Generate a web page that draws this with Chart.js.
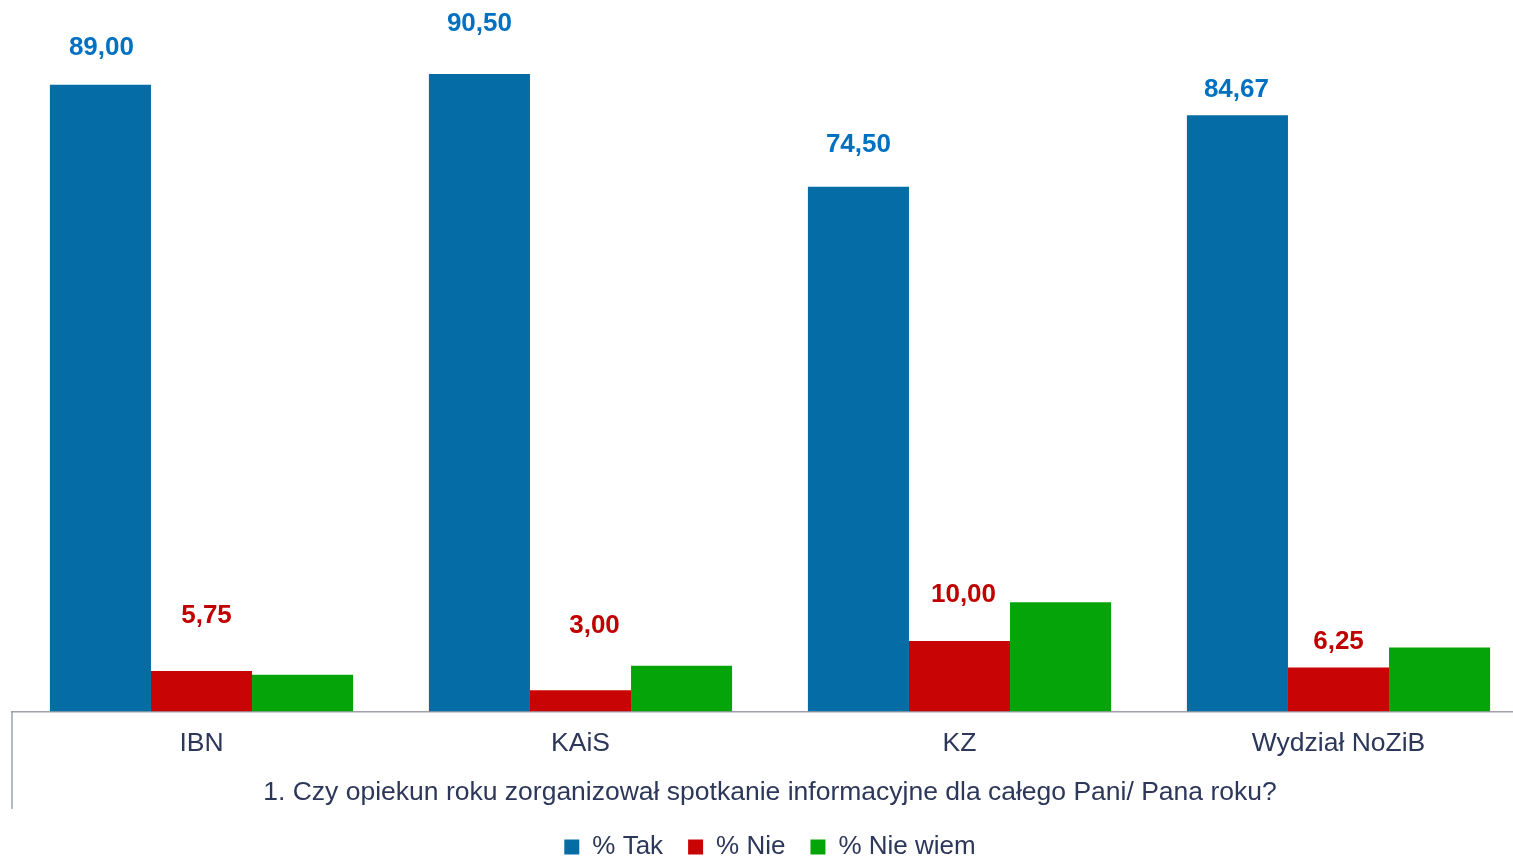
<!DOCTYPE html>
<html>
<head>
<meta charset="utf-8">
<script src="https://cdn.jsdelivr.net/npm/chart.js@4"></script>
<style>
  html, body { margin: 0; padding: 0; overflow: hidden; background: #fff; }
  #wrap { position: absolute; left: 0; top: 0; width: 1540px; height: 870px; }
</style>
</head>
<body>
<div id="wrap"><canvas id="c"></canvas></div>
<script>
const categories = ['IBN', 'KAiS', 'KZ', 'Wydział NoZiB'];
const seriesNames = ['% Tak', '% Nie', '% Nie wiem'];
const tak = [89.00, 90.50, 74.50, 84.67];
const nie = [5.75, 3.00, 10.00, 6.25];
const nieWiem = [5.2, 6.5, 15.5, 9.08];
const axisTitle = '1. Czy opiekun roku zorganizował spotkanie informacyjne dla całego Pani/ Pana roku?';

const FONT = "'Liberation Sans', Arial, Helvetica, sans-serif";
const TEXT = '#2C3759';

// label placement (pixels above bar top, horizontal shift) for labelled series
const labelOffsets = {
  0: { dy: [37, 50, 42, 25], dx: [1, 0, 0, -1], color: '#0070C0' },
  1: { dy: [55, 64, 46, 26], dx: [5, 14, 4, 0], color: '#C00000' }
};

const valueLabels = {
  id: 'valueLabels',
  afterDatasetsDraw(chart) {
    const ctx = chart.ctx;
    ctx.save();
    ctx.font = 'bold 26px ' + FONT;
    ctx.textAlign = 'center';
    ctx.textBaseline = 'middle';
    Object.keys(labelOffsets).forEach(k => {
      const i = +k;
      const cfg = labelOffsets[i];
      const meta = chart.getDatasetMeta(i);
      const data = chart.data.datasets[i].data;
      ctx.fillStyle = cfg.color;
      meta.data.forEach((el, j) => {
        const txt = data[j].toFixed(2).replace('.', ',');
        ctx.fillText(txt, el.x + cfg.dx[j], el.y - cfg.dy[j]);
      });
    });
    ctx.restore();
  }
};

const leftLine = {
  id: 'leftLine',
  afterDraw(chart) {
    const ctx = chart.ctx;
    const xs = chart.scales.x;
    ctx.save();
    ctx.strokeStyle = '#9EA1AB';
    ctx.lineWidth = 1.5;
    ctx.beginPath();
    ctx.moveTo(chart.chartArea.left, chart.chartArea.bottom);
    ctx.lineTo(chart.chartArea.left, xs.bottom);
    ctx.stroke();
    ctx.restore();
  }
};

new Chart(document.getElementById('c'), {
  type: 'bar',
  data: {
    labels: categories,
    datasets: [
      { label: seriesNames[0], data: tak, backgroundColor: '#056CA5' },
      { label: seriesNames[1], data: nie, backgroundColor: '#C80404' },
      { label: seriesNames[2], data: nieWiem, backgroundColor: '#05A509' }
    ]
  },
  options: {
    responsive: true,
    maintainAspectRatio: false,
    animation: false,
    devicePixelRatio: 1,
    layout: { padding: { left: 12, right: 12, top: 7.2, bottom: 0 } },
    datasets: {
      bar: {
        categoryPercentage: 0.8,
        barPercentage: 1.0,
        borderWidth: 0
      }
    },
    scales: {
      x: {
        grid: { display: false, drawTicks: false },
        border: { display: true, color: '#9EA1AB', width: 1.5 },
        ticks: { color: TEXT, font: { family: FONT, size: 26.5 }, padding: 16, maxRotation: 0 },
        title: {
          display: true,
          text: axisTitle,
          color: TEXT,
          font: { family: FONT, size: 26.5 },
          padding: { top: 2, bottom: 0 }
        }
      },
      y: { display: false, min: 0, max: 100 }
    },
    plugins: {
      legend: {
        position: 'bottom',
        labels: {
          color: TEXT,
          font: { family: FONT, size: 26 },
          boxWidth: 15,
          boxHeight: 15,
          padding: 25
        }
      },
      tooltip: { enabled: false },
      title: { display: false }
    }
  },
  plugins: [valueLabels, leftLine]
});
</script>
</body>
</html>
